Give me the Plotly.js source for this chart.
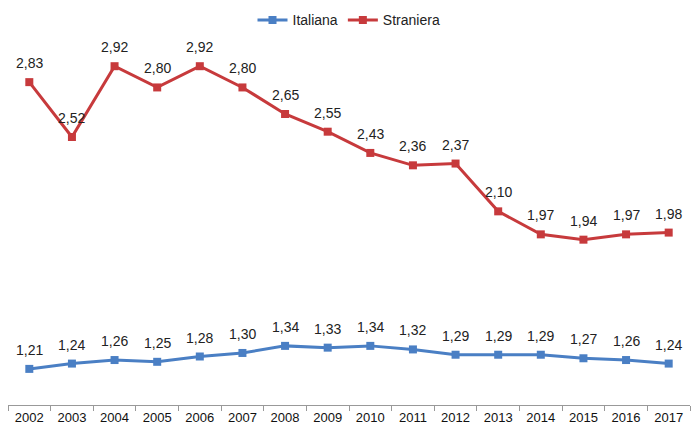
<!DOCTYPE html>
<html>
<head>
<meta charset="utf-8">
<script src="https://cdn.plot.ly/plotly-3.0.1.min.js"></script>
<style>html,body{margin:0;padding:0;background:#fff;}#chart{width:692px;height:432px;}</style>
</head>
<body>
<div id="chart"></div>
<script>
const years = ['2002','2003','2004','2005','2006','2007','2008','2009','2010','2011','2012','2013','2014','2015','2016','2017'];
const italiana = [1.21,1.24,1.26,1.25,1.28,1.30,1.34,1.33,1.34,1.32,1.29,1.29,1.29,1.27,1.26,1.24];
const straniera = [2.83,2.52,2.92,2.80,2.92,2.80,2.65,2.55,2.43,2.36,2.37,2.10,1.97,1.94,1.97,1.98];

function trace(name, vals, color) {
  return {
    type: 'scatter', mode: 'lines+markers', name: name,
    x: years, y: vals,
    line: {color: color, width: 3},
    marker: {color: color, symbol: 'square', size: 8},
    cliponaxis: false
  };
}
function labels(vals) {
  return vals.map((v, i) => ({
    x: i, y: v, xref: 'x', yref: 'y',
    text: v.toFixed(2).replace('.', ','), showarrow: false,
    yanchor: 'bottom', yshift: 9,
    font: {size: 14, color: '#222', family: 'Liberation Sans, Arial, sans-serif'}
  }));
}

const data = [trace('Italiana', italiana, '#4a7fc4'), trace('Straniera', straniera, '#c73a3c')];
const layout = {
  width: 692, height: 432,
  margin: {l: 8, r: 2, t: 40, b: 27, autoexpand: false},
  separators: ',.',
  font: {family: 'Liberation Sans, Arial, sans-serif', color: '#222', size: 12},
  paper_bgcolor: '#fff', plot_bgcolor: '#fff',
  showlegend: true,
  legend: {orientation: 'h', x: 0.5, xanchor: 'center', yref: 'container', y: 0.99, yanchor: 'top', font: {size: 14}},
  annotations: labels(italiana).concat(labels(straniera)),
  xaxis: {type: 'category', range: [-0.5, 15.5], autorange: false, showline: true, linecolor: '#999', linewidth: 1, ticks: 'outside', tickson: 'boundaries', tickcolor: '#999', ticklen: 5, showgrid: false, zeroline: false, tickfont: {size: 13, color: '#111'}},
  yaxis: {range: [1.006, 3.068], autorange: false, showticklabels: false, showline: false, ticks: '', showgrid: false, zeroline: false}
};
Plotly.newPlot('chart', data, layout, {displayModeBar: false, staticPlot: true});
</script>
</body>
</html>
